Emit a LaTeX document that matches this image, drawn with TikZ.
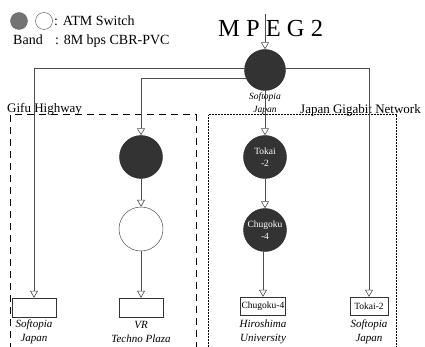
\documentclass[tikz,border=0pt]{standalone}
\usepackage{fontspec}
\setmainfont{Liberation Serif}
\usetikzlibrary{arrows.meta}
\begin{document}
\begin{tikzpicture}[x=1pt,y=-1pt,
  sw/.style={circle, fill=black!80, draw=black!85, minimum size=43pt, inner sep=0pt, text=white,
    font=\fontsize{9.5}{12}\selectfont, align=center},
  wsw/.style={circle, fill=white, draw=black!80, minimum size=44pt, inner sep=0pt},
  term/.style={draw=black!80, fill=white, minimum width=44pt, minimum height=19pt, inner sep=1pt,
    font=\fontsize{9.5}{11}\selectfont},
  lab/.style={font=\itshape\fontsize{11}{14}\selectfont, align=center},
  txt/.style={anchor=base west, inner sep=0pt},
  conn/.style={draw=black!70, line width=0.6pt, -{Triangle[open,length=7pt,width=8pt]}}]
\useasboundingbox (0,0) rectangle (425,347);
% legend
\node[circle, fill=black!55, draw=black!60, minimum size=17pt, inner sep=0pt] (lg) at (19,21) {};
\node[circle, draw=black!70, minimum size=17pt, inner sep=0pt] (lw) at (44,21) {};
\node[txt, font=\fontsize{14}{14}\selectfont] (lt) at (54,26) {: ATM Switch};
\node[txt, font=\fontsize{14}{14}\selectfont] (bd) at (13,45) {Band};
\node[txt, font=\fontsize{14}{14}\selectfont] (bv) at (55,45) {: 8M bps CBR-PVC};
\node[txt, font=\fontsize{24.5}{24.5}\selectfont] (mpeg) at (218,37) {M P E G 2};
\coordinate (mp) at (265,14);
% region boxes
\draw[line width=1pt, dash pattern=on 7pt off 5pt] (10,350) -- (10,115) -- (196,115) -- (196,350);
\draw[line width=1pt, dash pattern=on 0.8pt off 0.7pt] (208,350) -- (208,115) -- (396,115) -- (396,350);
\node[txt, font=\fontsize{13}{13}\selectfont] (gh) at (7,113) {Gifu Highway};
\node[txt, font=\fontsize{13}{13}\selectfont] (jg) at (300,114) {Japan Gigabit Network};
% switches
\node[sw, minimum size=41pt] (sj) at (265,70) {};
\node[lab, font=\itshape\fontsize{9.5}{13}\selectfont] (sjl) at (265,104) {Softopia\\Japan};
\node[sw] (vr1) at (141,157) {};
\node[wsw] (vr2) at (141,229) {};
\node[sw] (t2) at (265,157) {Tokai\\-2};
\node[sw] (c4) at (265,230) {Chugoku\\-4};
% terminals
\node[term] (b1) at (34,307.5) {};
\node[term] (b2) at (141,307.5) {};
\node[term, minimum width=45pt, minimum height=18pt] (b3) at (263,306) {Chugoku-4};
\node[term, minimum width=38pt, minimum height=18pt] (b4) at (369,306) {Tokai-2};
\node[lab] (l1) at (34,332) {Softopia\\Japan};
\node[lab] (l2) at (141,332) {VR\\Techno Plaza};
\node[lab] (l3) at (263,332) {Hiroshima\\University};
\node[lab] (l4) at (369,332) {Softopia\\Japan};
% connectors
\draw[conn] (mp) -- (sj);
\draw[conn] (sj.174) -| (b1.north);
\draw[conn] (sj.203) -| (vr1.north);
\draw[conn] (sj.6) -| (b4.north);
\draw[conn] (sj) -- (t2);
\draw[conn] (t2) -- (c4);
\draw[conn] (c4.south -| b3.north) -- (b3.north);
\draw[conn] (vr1) -- (vr2);
\draw[conn] (vr2) -- (b2);
\end{tikzpicture}
\end{document}
